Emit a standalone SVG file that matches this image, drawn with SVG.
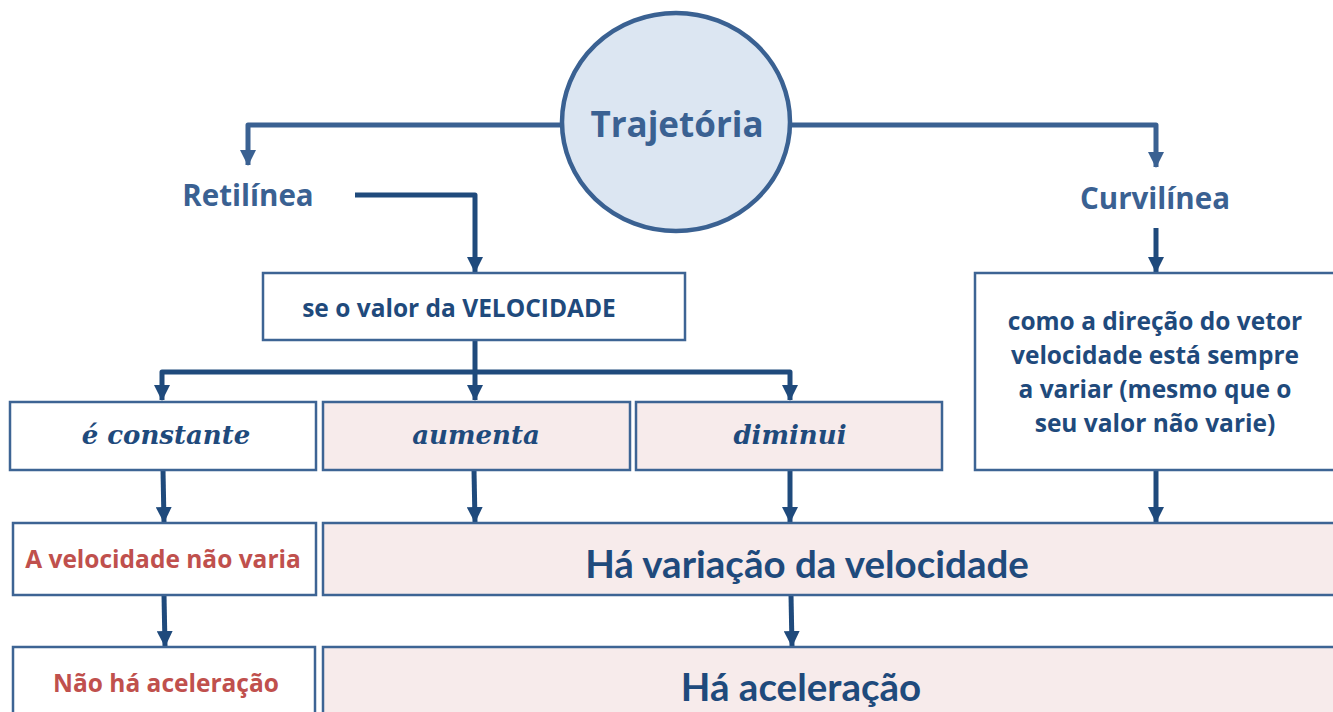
<svg xmlns="http://www.w3.org/2000/svg" width="1333" height="712" viewBox="0 0 1333 712">
<defs>
<marker id="ah" markerWidth="16" markerHeight="16" viewBox="0 0 16 16" refX="15" refY="8" orient="auto" markerUnits="userSpaceOnUse">
<path d="M0,0 L16,8 L0,16 z" fill="#1f4a7c"/>
</marker>
<marker id="ahL" markerWidth="16" markerHeight="16" viewBox="0 0 16 16" refX="15" refY="8" orient="auto" markerUnits="userSpaceOnUse">
<path d="M0,0 L16,8 L0,16 z" fill="#3a6192"/>
</marker>
<style>
.box{stroke:#3d6494;stroke-width:2.5;}
.w{fill:#ffffff;}
.p{fill:#f7ebeb;}
.c{fill:none;stroke:#1f4a7c;stroke-width:5;stroke-linejoin:round;}
.cl{fill:none;stroke:#3a6192;stroke-width:5;stroke-linejoin:round;}
.t{font-family:"Open Sans","Liberation Sans",sans-serif;font-weight:bold;text-anchor:middle;}
.blue{fill:#1f4a7c;}
.lb{fill:#3a6192;}
.red{fill:#c0504d;}
.scr{font-family:"DejaVu Serif","Liberation Serif",serif;font-style:italic;font-weight:bold;font-size:26px;text-anchor:middle;fill:#1f4a7c;}
.lato{font-family:Lato,"Liberation Sans",sans-serif;font-weight:bold;text-anchor:middle;fill:#1f4a7c;}
</style>
</defs>
<rect width="1333" height="712" fill="#ffffff"/>
<g id="connectors">
<path class="cl" d="M561,125 H248 V165" marker-end="url(#ahL)"/>
<path class="cl" d="M790,125 H1156 V167" marker-end="url(#ahL)"/>
<path class="c" d="M355,195 H475 V272" marker-end="url(#ah)"/>
<path class="c" d="M1156,228 V272" marker-end="url(#ah)"/>
<path class="c" d="M475,340 V400" marker-end="url(#ah)"/>
<path class="c" d="M475,372 H790 V400" marker-end="url(#ah)"/>
<path class="c" d="M475,372 H162 V400" marker-end="url(#ah)"/>
<path class="c" d="M163,470 L164,522" marker-end="url(#ah)"/>
<path class="c" d="M474,470 L475,522" marker-end="url(#ah)"/>
<path class="c" d="M790,470 L790,522" marker-end="url(#ah)"/>
<path class="c" d="M1156,470 V522" marker-end="url(#ah)"/>
<path class="c" d="M164,595 L165,646" marker-end="url(#ah)"/>
<path class="c" d="M791,595 L792,646" marker-end="url(#ah)"/>
</g>
<g id="trajetoria">
<ellipse cx="676" cy="122" rx="114" ry="109" fill="#dce6f2" stroke="#3a6192" stroke-width="4.5"/>
<text class="t lb" x="677" y="137" font-size="35">Trajetória</text>
</g>
<g id="retilinea">
<text class="t lb" x="248" y="206" font-size="29.5">Retilínea</text>
</g>
<g id="curvilinea">
<text class="t lb" x="1155" y="209" font-size="29.5">Curvilínea</text>
</g>
<g id="se-o-valor">
<rect class="box w" x="263" y="273" width="422" height="67"/>
<text class="t blue" x="459" y="317" font-size="24.5">se o valor da VELOCIDADE</text>
</g>
<g id="direcao">
<rect class="box w" x="975" y="273" width="370" height="197"/>
<text class="t blue" x="1155" y="330" font-size="24.5">como a direção do vetor</text>
<text class="t blue" x="1155" y="364" font-size="24.5">velocidade está sempre</text>
<text class="t blue" x="1155" y="398" font-size="24.5">a variar (mesmo que o</text>
<text class="t blue" x="1155" y="432" font-size="24.5">seu valor não varie)</text>
</g>
<g id="constante">
<rect class="box w" x="10" y="402" width="306" height="68"/>
<text class="scr" x="166" y="444">é constante</text>
</g>
<g id="aumenta">
<rect class="box p" x="323" y="402" width="307" height="68"/>
<text class="scr" x="476" y="444">aumenta</text>
</g>
<g id="diminui">
<rect class="box p" x="636" y="402" width="306" height="68"/>
<text class="scr" x="790" y="444">diminui</text>
</g>
<g id="nao-varia">
<rect class="box w" x="13" y="523" width="303" height="72"/>
<text class="t red" x="163" y="568" font-size="24.5">A velocidade não varia</text>
</g>
<g id="ha-variacao">
<rect class="box p" x="323" y="523" width="1020" height="72"/>
<text class="lato" x="807" y="578" font-size="38.5">Há variação da velocidade</text>
</g>
<g id="nao-aceleracao">
<rect class="box w" x="13" y="647" width="302" height="80"/>
<text class="t red" x="166" y="692" font-size="24.5">Não há aceleração</text>
</g>
<g id="ha-aceleracao">
<rect class="box p" x="323" y="647" width="1020" height="80"/>
<text class="lato" x="801" y="701" font-size="38.5">Há aceleração</text>
</g>
</svg>
